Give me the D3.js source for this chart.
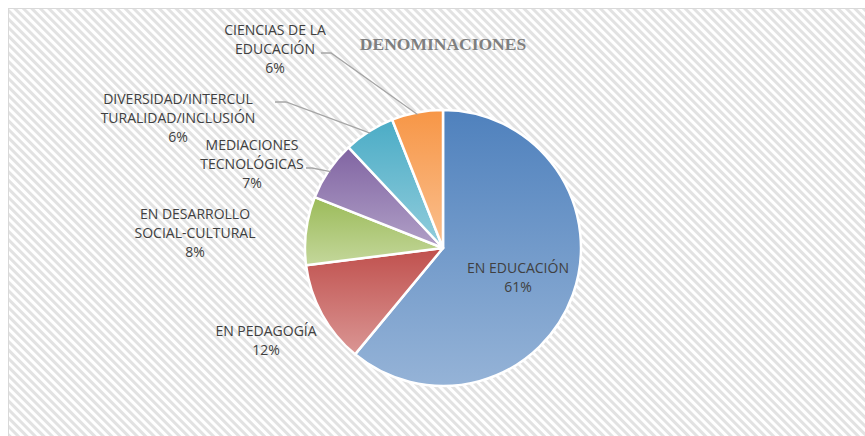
<!DOCTYPE html>
<html lang="es">
<head>
<meta charset="UTF-8">
<title>Denominaciones</title>
<script src="https://d3js.org/d3.v7.min.js"></script>
<style>
  body { margin: 0; background: #fff; }
  .lbl { font-family: 'Open Sans', sans-serif; font-size: 14px; fill: #404040; text-anchor: middle; }
  .title { font-family: 'Liberation Serif', serif; font-weight: bold; font-size: 17.5px; fill: #7f7f7f; text-anchor: middle; }
  .leader { fill: none; stroke: #a6a6a6; stroke-width: 1.3; }
</style>
</head>
<body>
<svg id="chart" width="865" height="436"></svg>
<script>
// data (clockwise from 12 o'clock)
const categories = ["EN EDUCACIÓN", "EN PEDAGOGÍA", "EN DESARROLLO SOCIAL-CULTURAL",
  "MEDIACIONES TECNOLÓGICAS", "DIVERSIDAD/INTERCULTURALIDAD/INCLUSIÓN", "CIENCIAS DE LA EDUCACIÓN"];
const percents = [61, 12, 8, 7, 6, 6];
const labelLines = [
  ["EN EDUCACIÓN"],
  ["EN PEDAGOGÍA"],
  ["EN DESARROLLO", "SOCIAL-CULTURAL"],
  ["MEDIACIONES", "TECNOLÓGICAS"],
  ["DIVERSIDAD/INTERCUL", "TURALIDAD/INCLUSIÓN"],
  ["CIENCIAS DE LA", "EDUCACIÓN"]
];
const colorsDark = ["#4f81bd", "#c0504d", "#9bbb59", "#8064a2", "#4bacc6", "#f79646"];
const colorsLight = ["#95b3d7", "#da9694", "#c4d79b", "#b1a0c7", "#92cddc", "#fac090"];

// layout
const cx = 443, cy = 248, radius = 138;
// label anchor (center x, first baseline y) relative to pie center, leader start
const labelPos = [
  { dx: 75, dy: 25, leader: null },
  { dx: -177, dy: 88, leader: null },
  { dx: -248, dy: -29, leader: null },
  { dx: -191, dy: -98, leader: { x: -137, y: -80, bend: -131 } },
  { dx: -265, dy: -144, leader: { x: -168, y: -146, bend: -157 } },
  { dx: -168, dy: -213, leader: { x: -122, y: -195, bend: -112 } }
];
const lineH = 19;

const svg = d3.select("#chart");
const defs = svg.append("defs");

const pat = defs.append("pattern")
  .attr("id", "stripes")
  .attr("patternUnits", "userSpaceOnUse")
  .attr("width", 6).attr("height", 6)
  .attr("patternTransform", "rotate(45)");
pat.append("rect").attr("width", 6).attr("height", 6).attr("fill", "#ffffff");
pat.append("rect").attr("width", 6).attr("height", 3).attr("fill", "#e2e2e2");

svg.append("rect")
  .attr("x", 8.5).attr("y", 8.5)
  .attr("width", 870).attr("height", 440)
  .attr("fill", "url(#stripes)")
  .attr("stroke", "#d9d9d9").attr("stroke-width", 1);

categories.forEach((c, i) => {
  const g = defs.append("linearGradient")
    .attr("id", "grad" + i)
    .attr("x1", 0).attr("y1", 0).attr("x2", 0).attr("y2", 1);
  g.append("stop").attr("offset", "0%").attr("stop-color", colorsDark[i]);
  g.append("stop").attr("offset", "100%").attr("stop-color", colorsLight[i]);
});

svg.append("text")
  .attr("class", "title")
  .attr("x", 443).attr("y", 50)
  .text("DENOMINACIONES");

const pie = d3.pie().sort(null).value(d => d)(percents);
const arc = d3.arc().innerRadius(0).outerRadius(radius);

const gPie = svg.append("g").attr("transform", `translate(${cx},${cy})`);
gPie.selectAll("path")
  .data(pie)
  .enter()
  .append("path")
  .attr("d", arc)
  .attr("fill", (d, i) => `url(#grad${i})`)
  .attr("stroke", "#ffffff")
  .attr("stroke-width", 2.5)
  .attr("stroke-linejoin", "round");

// leader lines end on the slice edge at mid angle
pie.forEach((d, i) => {
  const lp = labelPos[i];
  if (!lp.leader) return;
  const a = (d.startAngle + d.endAngle) / 2;
  const ex = Math.sin(a) * (radius - 2), ey = -Math.cos(a) * (radius - 2);
  gPie.append("polyline")
    .attr("class", "leader")
    .attr("points", `${lp.leader.x},${lp.leader.y} ${lp.leader.bend},${lp.leader.y} ${ex},${ey}`);
});

pie.forEach((d, i) => {
  const lp = labelPos[i];
  const t = gPie.append("text").attr("class", "lbl");
  const lines = labelLines[i].concat([percents[i] + "%"]);
  lines.forEach((s, k) => {
    t.append("tspan").attr("x", lp.dx).attr("y", lp.dy + k * lineH).text(s);
  });
});
</script>
</body>
</html>
